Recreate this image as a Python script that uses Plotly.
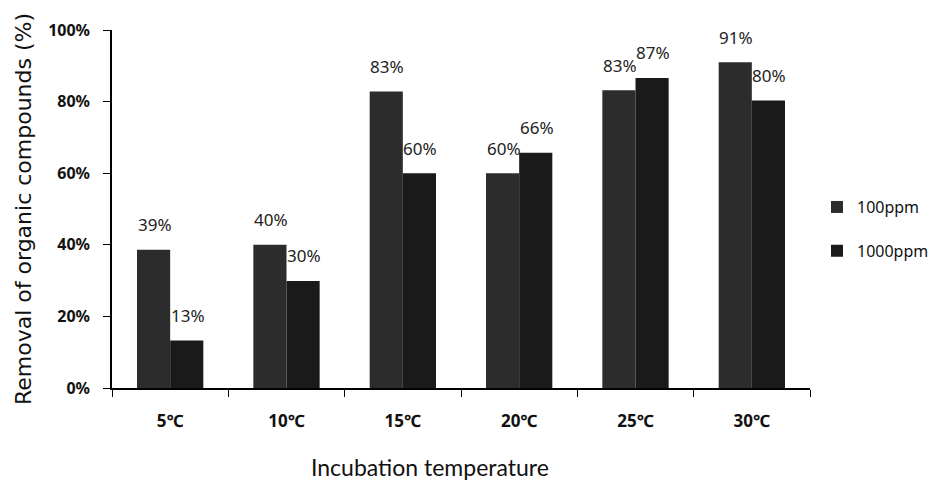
import plotly.graph_objects as go

categories = ["5℃", "10℃", "15℃", "20℃", "25℃", "30℃"]
s100 = [38.6, 40.0, 82.8, 60.0, 83.2, 91.0]
s1000 = [13.3, 29.9, 60.0, 65.7, 86.6, 80.3]
series_names = ["100ppm", "1000ppm"]
colors = ["#2c2c2c", "#1a1a1a"]
yticks = [0, 20, 40, 60, 80, 100]

fig = go.Figure()
for i, (name, vals) in enumerate(zip(series_names, [s100, s1000])):
    fig.add_trace(go.Bar(
        x=categories, y=vals, name=name, marker_color=colors[i],
        marker_line_width=0, legendgroup=name,
    ))

font_fam = "Noto Sans, DejaVu Sans, sans-serif"
# data labels above bars
bar_half = 16.5
for i, vals in enumerate([s100, s1000]):
    shift = -bar_half if i == 0 else bar_half
    for c, v in zip(categories, vals):
        fig.add_annotation(
            x=c, y=v, xref="x", yref="y", text=f"{round(v):d}%",
            showarrow=False, xshift=shift + 1, yshift=25,
            font=dict(family=font_fam, size=17, color="#222"),
        )

# axis titles
fig.add_annotation(
    x=-0.1275, y=0.5, xref="paper", yref="paper", textangle=-90,
    text="Removal of organic compounds (%)", showarrow=False,
    xanchor="center", yanchor="middle",
    font=dict(family="DejaVu Sans, sans-serif", size=22, color="#111"),
)
fig.add_annotation(
    x=0.4556, y=-0.222, xref="paper", yref="paper",
    text="Incubation temperature", showarrow=False,
    xanchor="center", yanchor="middle",
    font=dict(family="Lato, Noto Sans, sans-serif", size=23, color="#111"),
)

fig.update_layout(
    width=921, height=473,
    margin=dict(l=104, r=119, t=22, b=93, autoexpand=False),
    paper_bgcolor="white", plot_bgcolor="white",
    barmode="group", bargap=0.43, bargroupgap=0,
    font=dict(family=font_fam, color="#111"),
    legend=dict(x=1.010, y=0.444, xanchor="left", yanchor="middle",
                font=dict(size=16, family=font_fam), tracegroupgap=20,
                bgcolor="rgba(0,0,0,0)"),
    showlegend=True,
)
fig.update_xaxes(
    showline=True, linecolor="#000", linewidth=1.5,
    ticks="outside", ticklen=7, tickcolor="#000", tickson="boundaries",
    tickfont=dict(size=17, family=font_fam, weight="bold"),
    ticklabelstandoff=17,
    showgrid=False,
)
fig.update_yaxes(
    range=[0, 100], tickvals=yticks, ticktext=[f"{t}%" for t in yticks],
    showline=True, linecolor="#000", linewidth=1.5,
    ticks="outside", ticklen=7, tickcolor="#000",
    tickfont=dict(size=16, family=font_fam, weight="bold"),
    ticklabelstandoff=10,
    showgrid=False, zeroline=False,
)

fig.write_html("out.html")
